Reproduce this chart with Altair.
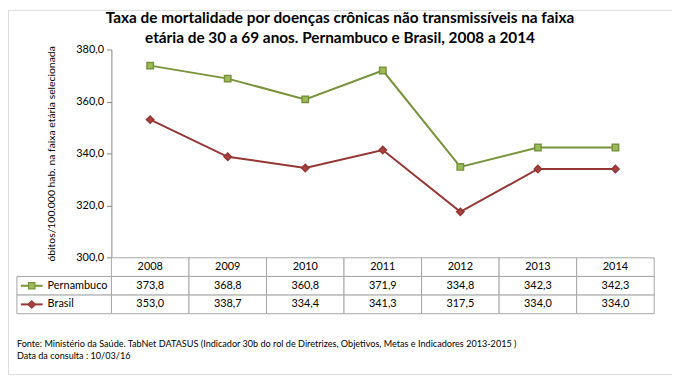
import altair as alt
import pandas as pd

# ---------------- data ----------------
years = [2008, 2009, 2010, 2011, 2012, 2013, 2014]
pernambuco = [373.8, 368.8, 360.8, 371.9, 334.8, 342.3, 342.3]
brasil = [353.0, 338.7, 334.4, 341.3, 317.5, 334.0, 334.0]
series_names = ["Pernambuco", "Brasil"]
y_ticks = [300, 320, 340, 360, 380]
title_lines = [
    "Taxa de mortalidade por doenças crônicas não transmissíveis na faixa",
    "etária de 30 a  69 anos. Pernambuco e Brasil, 2008 a 2014",
]
y_title = "óbitos/100.000 hab. na faixa etária selecionada"
footer_lines = [
    "Fonte: Ministério da Saúde. TabNet DATASUS (Indicador 30b do rol de Diretrizes, Objetivos, Metas e Indicadores 2013-2015 )",
    "Data da consulta : 10/03/16",
]

# ---------------- style ----------------
FONT = "Lato"
GREEN, GREEN_FILL = "#77933C", "#9BBB59"
RED, RED_FILL = "#943634", "#A5423F"
GRID = "#A6A6A6"
AXIS = "#868686"
W, H = 671, 368

long = pd.DataFrame({
    "year": years * 2,
    "series": [series_names[0]] * len(years) + [series_names[1]] * len(years),
    "value": pernambuco + brasil,
})


def fmt(v):
    return f"{v:.1f}".replace(".", ",")


rows = ["header"] + series_names
table = pd.DataFrame(
    [{"year": y, "row": "header", "label": str(y)} for y in years]
    + [{"year": y, "row": s, "label": fmt(v)}
       for s, vals in zip(series_names, [pernambuco, brasil])
       for y, v in zip(years, vals)]
)
legend_df = pd.DataFrame({"col": ["legend"] * 2, "row": series_names})
footer_df = pd.DataFrame({"i": [0, 1], "line": footer_lines})

x_scale = alt.Scale(type="band", domain=years, range=[104.5, 653], paddingInner=0, paddingOuter=0)
y_scale = alt.Scale(domain=[300, 380], range=[250, 40], nice=False, zero=False)
row_scale = alt.Scale(type="band", domain=rows, range=[250.5, 307], paddingInner=0, paddingOuter=0)
leg_scale = alt.Scale(type="band", domain=["legend"], range=[9, 104.5], paddingInner=0, paddingOuter=0)
color_scale = alt.Scale(domain=series_names, range=[GREEN, RED])
fill_scale = alt.Scale(domain=series_names, range=[GREEN_FILL, RED_FILL])
shape_scale = alt.Scale(domain=series_names, range=["square", "diamond"])

y_axis = alt.Axis(
    values=y_ticks,
    labelExpr="replace(format(datum.value, '.1f'), '.', ',')",
    orient="left", offset=-104.5, tickSize=5, tickColor=AXIS, domainColor=AXIS,
    labelFont=FONT, labelFontSize=11, labelColor="black", labelPadding=3,
    grid=False, title=y_title, titleFont=FONT, titleFontSize=10.5,
    titleFontWeight="normal", titleColor="black", titlePadding=19,
)

tx = alt.X("year:O", scale=x_scale, axis=None)
txc = alt.X("year:O", scale=x_scale, axis=None, bandPosition=0.5)
ty = alt.Y("row:N", scale=row_scale, axis=None)
tyc = alt.Y("row:N", scale=row_scale, axis=None, bandPosition=0.5)

table_rect = alt.Chart(table).mark_rect(fill="white", stroke=GRID, strokeWidth=1).encode(x=tx, y=ty)
table_text = alt.Chart(table).mark_text(font=FONT, fontSize=11, color="black").encode(
    x=txc, y=tyc, text="label:N")

leg_rect = alt.Chart(legend_df).mark_rect(fill="white", stroke=GRID, strokeWidth=1).encode(
    x=alt.X("col:N", scale=leg_scale, axis=None), y=ty)
leg_line = alt.Chart(legend_df).mark_point(shape="stroke", size=484, strokeWidth=2, opacity=1).encode(
    x=alt.X("col:N", scale=leg_scale, axis=None, bandPosition=0.157), y=tyc,
    color=alt.Color("row:N", scale=color_scale, legend=None))
leg_marker = alt.Chart(legend_df).mark_point(filled=True, opacity=1, strokeWidth=1.2).encode(
    x=alt.X("col:N", scale=leg_scale, axis=None, bandPosition=0.157), y=tyc,
    shape=alt.Shape("row:N", scale=shape_scale, legend=None),
    fill=alt.Fill("row:N", scale=fill_scale, legend=None),
    stroke=alt.Stroke("row:N", scale=color_scale, legend=None),
    size=alt.Size("row:N", scale=alt.Scale(domain=series_names, range=[42, 55]), legend=None))
leg_text = alt.Chart(legend_df).mark_text(align="left", font=FONT, fontSize=11, color="black").encode(
    x=alt.X("col:N", scale=leg_scale, axis=None, bandPosition=0.325), y=tyc, text="row:N")

lines = alt.Chart(long).mark_line(strokeWidth=2).encode(
    x=txc, y=alt.Y("value:Q", scale=y_scale, axis=y_axis),
    color=alt.Color("series:N", scale=color_scale, legend=None))
points = alt.Chart(long).mark_point(filled=True, opacity=1, strokeWidth=1.5).encode(
    x=txc, y=alt.Y("value:Q", scale=y_scale, axis=None),
    shape=alt.Shape("series:N", scale=shape_scale, legend=None),
    fill=alt.Fill("series:N", scale=fill_scale, legend=None),
    stroke=alt.Stroke("series:N", scale=color_scale, legend=None),
    size=alt.Size("series:N", scale=alt.Scale(domain=series_names, range=[64, 85]), legend=None))

footer = alt.Chart(footer_df).mark_text(align="left", baseline="middle", font=FONT, fontSize=9.2, color="black").encode(
    x=alt.value(9),
    y=alt.Y("i:O", scale=alt.Scale(type="point", domain=[0, 1], range=[338, 350], padding=0), axis=None),
    text="line:N")

chart = alt.layer(
    table_rect, table_text, leg_rect, leg_line, leg_marker, leg_text, lines, points, footer
).resolve_scale(
    x="independent", y="independent"
).properties(
    width=W, height=H, padding=0,
    autosize=alt.AutoSizeParams(type="none"),
    title=alt.TitleParams(
        text=title_lines, anchor="middle", frame="group", font=FONT, fontSize=15.5,
        fontWeight="bold", color="black", lineHeight=20, baseline="alphabetic", offset=-49),
).configure_view(
    stroke=AXIS, strokeWidth=1.5
).configure(background="white")

chart.save("out.html", embed_options={"renderer": "svg", "actions": False})
